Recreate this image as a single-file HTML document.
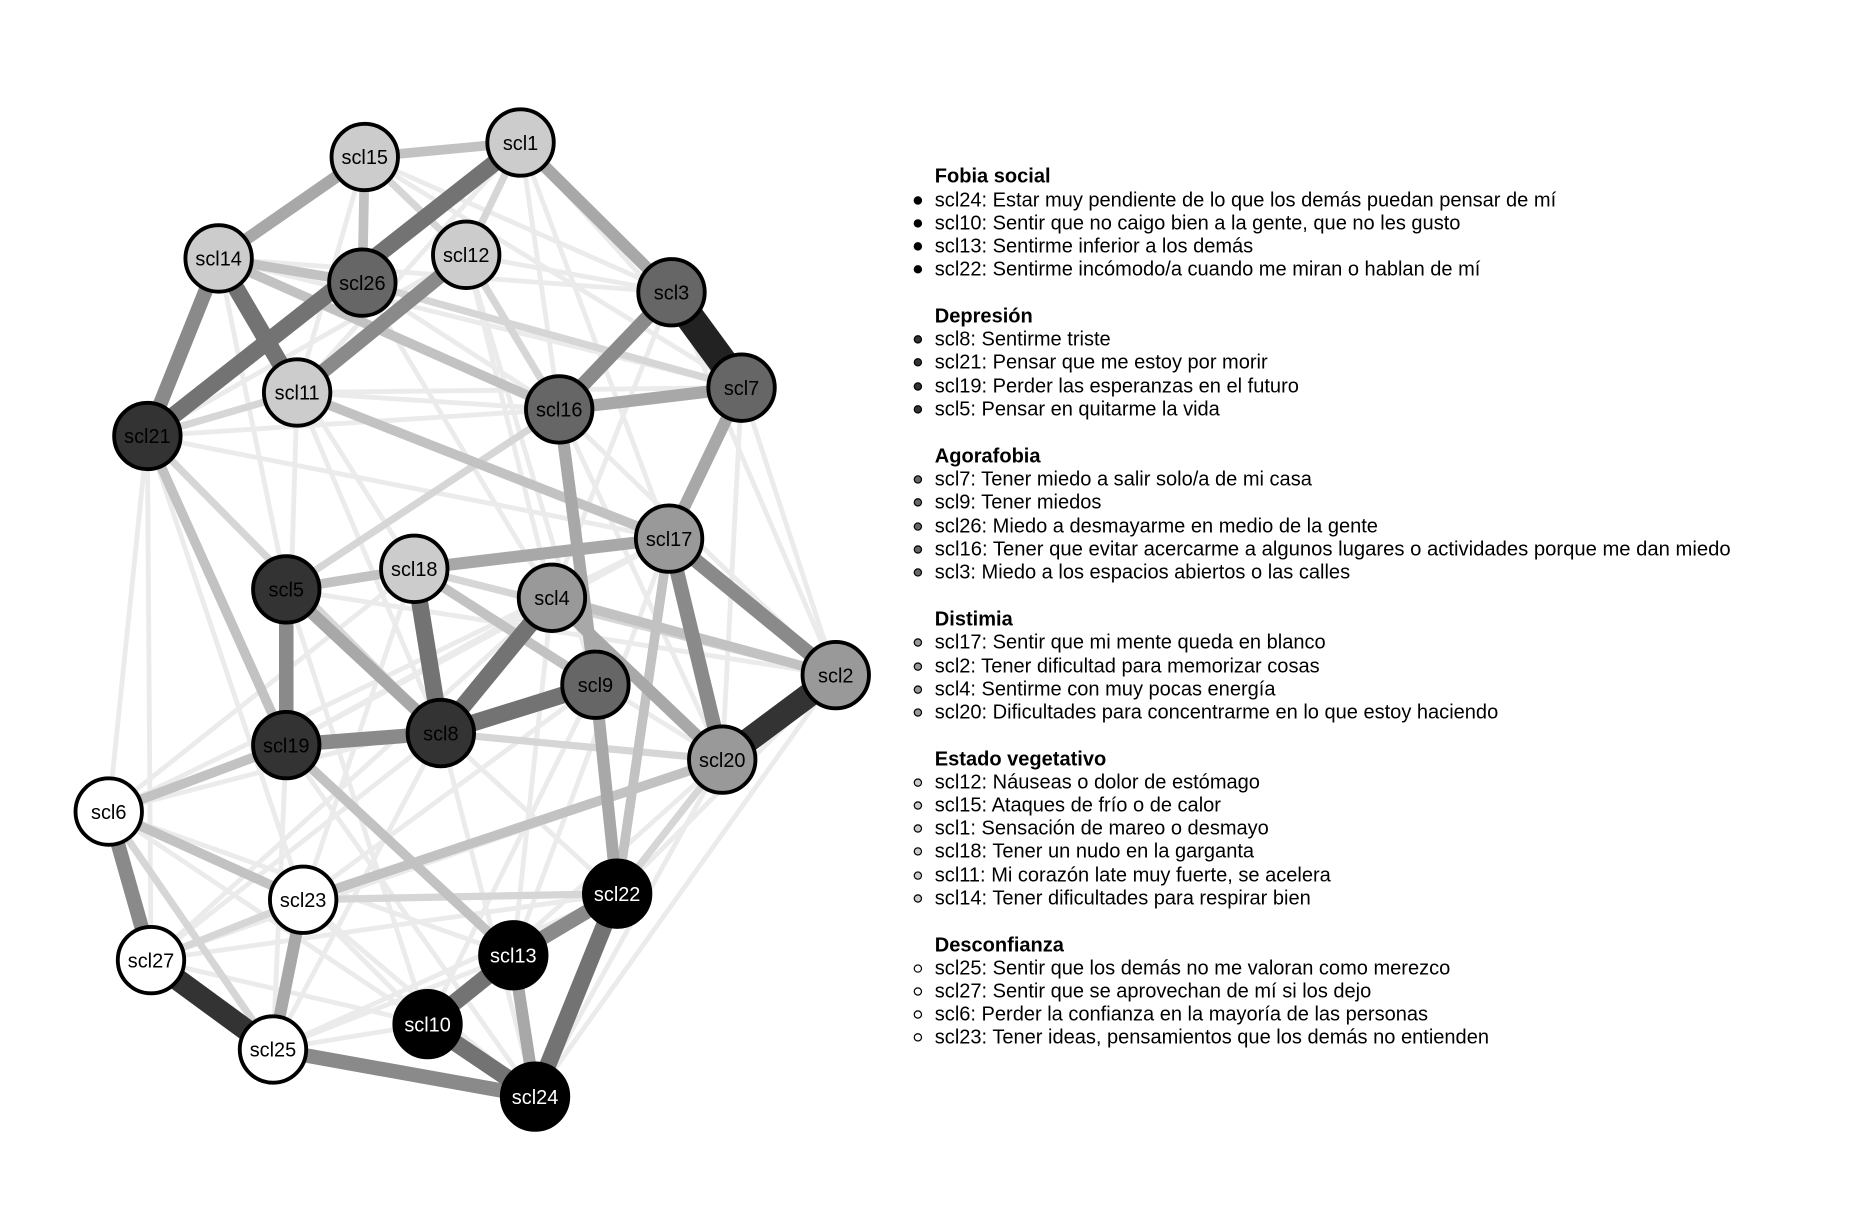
<!DOCTYPE html>
<html><head><meta charset="utf-8"><style>
html,body{margin:0;padding:0;background:#fff;width:1872px;height:1224px;overflow:hidden}
svg{display:block}
text{font-family:"Liberation Sans",Arial,sans-serif}
</style></head><body>
<svg width="1872" height="1224" viewBox="0 0 1550 1013.5" xmlns="http://www.w3.org/2000/svg">
<rect width="1550" height="1014" fill="#fff"/>
<g stroke-linecap="butt" fill="none">
<g stroke="#ebebeb" stroke-width="4">
<line x1="122" y1="361" x2="90" y2="672"/>
<line x1="122" y1="361" x2="125" y2="795"/>
<line x1="431" y1="118" x2="614" y2="321"/>
<line x1="431" y1="118" x2="463" y2="339"/>
<line x1="431" y1="118" x2="554" y2="446"/>
<line x1="431" y1="118" x2="246" y2="325"/>
<line x1="302" y1="130" x2="556" y2="242"/>
<line x1="302" y1="130" x2="614" y2="321"/>
<line x1="386" y1="211" x2="556" y2="242"/>
<line x1="386" y1="211" x2="457" y2="495"/>
<line x1="386" y1="211" x2="493" y2="567"/>
<line x1="181" y1="214" x2="237" y2="488"/>
<line x1="181" y1="214" x2="343" y2="471"/>
<line x1="300" y1="234" x2="463" y2="339"/>
<line x1="300" y1="234" x2="457" y2="495"/>
<line x1="246" y1="325" x2="614" y2="321"/>
<line x1="246" y1="325" x2="463" y2="339"/>
<line x1="246" y1="325" x2="365" y2="607"/>
<line x1="246" y1="325" x2="237" y2="617"/>
<line x1="122" y1="361" x2="463" y2="339"/>
<line x1="122" y1="361" x2="554" y2="446"/>
<line x1="122" y1="361" x2="251" y2="745"/>
<line x1="614" y1="321" x2="692" y2="559"/>
<line x1="614" y1="321" x2="598" y2="629"/>
<line x1="556" y1="242" x2="692" y2="559"/>
<line x1="556" y1="242" x2="457" y2="495"/>
<line x1="463" y1="339" x2="692" y2="559"/>
<line x1="463" y1="339" x2="598" y2="629"/>
<line x1="554" y1="446" x2="237" y2="617"/>
<line x1="554" y1="446" x2="90" y2="672"/>
<line x1="554" y1="446" x2="425" y2="791"/>
<line x1="343" y1="471" x2="598" y2="629"/>
<line x1="343" y1="471" x2="251" y2="745"/>
<line x1="343" y1="471" x2="90" y2="672"/>
<line x1="237" y1="488" x2="692" y2="559"/>
<line x1="237" y1="488" x2="511" y2="740"/>
<line x1="237" y1="488" x2="354" y2="848"/>
<line x1="457" y1="495" x2="237" y2="617"/>
<line x1="457" y1="495" x2="125" y2="795"/>
<line x1="457" y1="495" x2="425" y2="791"/>
<line x1="493" y1="567" x2="251" y2="745"/>
<line x1="493" y1="567" x2="354" y2="848"/>
<line x1="493" y1="567" x2="90" y2="672"/>
<line x1="365" y1="607" x2="125" y2="795"/>
<line x1="365" y1="607" x2="226" y2="869"/>
<line x1="365" y1="607" x2="443" y2="908"/>
<line x1="237" y1="617" x2="226" y2="869"/>
<line x1="237" y1="617" x2="443" y2="908"/>
<line x1="598" y1="629" x2="354" y2="848"/>
<line x1="598" y1="629" x2="443" y2="908"/>
<line x1="598" y1="629" x2="125" y2="795"/>
<line x1="692" y1="559" x2="511" y2="740"/>
<line x1="692" y1="559" x2="443" y2="908"/>
<line x1="90" y1="672" x2="354" y2="848"/>
<line x1="90" y1="672" x2="425" y2="791"/>
<line x1="251" y1="745" x2="443" y2="908"/>
<line x1="251" y1="745" x2="354" y2="848"/>
<line x1="125" y1="795" x2="354" y2="848"/>
<line x1="125" y1="795" x2="511" y2="740"/>
<line x1="226" y1="869" x2="511" y2="740"/>
<line x1="226" y1="869" x2="425" y2="791"/>
<line x1="226" y1="869" x2="354" y2="848"/>
<line x1="386" y1="211" x2="122" y2="361"/>
<line x1="302" y1="130" x2="246" y2="325"/>
<line x1="181" y1="214" x2="556" y2="242"/>
<line x1="181" y1="214" x2="614" y2="321"/>
</g>
<g stroke="#d6d6d6" stroke-width="6">
<line x1="431" y1="118" x2="386" y2="211"/>
<line x1="302" y1="130" x2="386" y2="211"/>
<line x1="300" y1="234" x2="614" y2="321"/>
<line x1="386" y1="211" x2="463" y2="339"/>
<line x1="122" y1="361" x2="246" y2="325"/>
<line x1="237" y1="488" x2="463" y2="339"/>
<line x1="365" y1="607" x2="598" y2="629"/>
<line x1="598" y1="629" x2="511" y2="740"/>
<line x1="251" y1="745" x2="511" y2="740"/>
<line x1="90" y1="672" x2="226" y2="869"/>
<line x1="614" y1="321" x2="554" y2="446"/>
<line x1="237" y1="488" x2="237" y2="617"/>
<line x1="343" y1="471" x2="692" y2="559"/>
<line x1="125" y1="795" x2="251" y2="745"/>
<line x1="122" y1="361" x2="365" y2="607"/>
</g>
<g stroke="#c2c2c2" stroke-width="8">
<line x1="302" y1="130" x2="431" y2="118"/>
<line x1="181" y1="214" x2="300" y2="234"/>
<line x1="181" y1="214" x2="463" y2="339"/>
<line x1="246" y1="325" x2="554" y2="446"/>
<line x1="302" y1="130" x2="300" y2="234"/>
<line x1="457" y1="495" x2="692" y2="559"/>
<line x1="237" y1="488" x2="343" y2="471"/>
<line x1="90" y1="672" x2="237" y2="617"/>
<line x1="90" y1="672" x2="251" y2="745"/>
<line x1="251" y1="745" x2="598" y2="629"/>
<line x1="237" y1="617" x2="425" y2="791"/>
<line x1="122" y1="361" x2="237" y2="617"/>
<line x1="554" y1="446" x2="511" y2="740"/>
<line x1="343" y1="471" x2="493" y2="567"/>
</g>
<g stroke="#a8a8a8" stroke-width="10">
<line x1="431" y1="118" x2="556" y2="242"/>
<line x1="302" y1="130" x2="181" y2="214"/>
<line x1="463" y1="339" x2="614" y2="321"/>
<line x1="343" y1="471" x2="554" y2="446"/>
<line x1="463" y1="339" x2="493" y2="567"/>
<line x1="614" y1="321" x2="554" y2="446"/>
<line x1="457" y1="495" x2="598" y2="629"/>
<line x1="493" y1="567" x2="511" y2="740"/>
<line x1="251" y1="745" x2="226" y2="869"/>
<line x1="425" y1="791" x2="443" y2="908"/>
<line x1="237" y1="488" x2="365" y2="607"/>
</g>
<g stroke="#8a8a8a" stroke-width="12">
<line x1="556" y1="242" x2="463" y2="339"/>
<line x1="554" y1="446" x2="598" y2="629"/>
<line x1="554" y1="446" x2="692" y2="559"/>
<line x1="237" y1="488" x2="237" y2="617"/>
<line x1="237" y1="617" x2="365" y2="607"/>
<line x1="386" y1="211" x2="246" y2="325"/>
<line x1="181" y1="214" x2="122" y2="361"/>
<line x1="90" y1="672" x2="125" y2="795"/>
<line x1="226" y1="869" x2="443" y2="908"/>
<line x1="511" y1="740" x2="425" y2="791"/>
</g>
<g stroke="#737373" stroke-width="14">
<line x1="431" y1="118" x2="122" y2="361"/>
<line x1="181" y1="214" x2="246" y2="325"/>
<line x1="343" y1="471" x2="365" y2="607"/>
<line x1="457" y1="495" x2="365" y2="607"/>
<line x1="365" y1="607" x2="493" y2="567"/>
<line x1="354" y1="848" x2="443" y2="908"/>
<line x1="511" y1="740" x2="443" y2="908"/>
<line x1="425" y1="791" x2="354" y2="848"/>
</g>
<line x1="556" y1="242" x2="614" y2="321" stroke="#222" stroke-width="24"/>
<line x1="692" y1="559" x2="598" y2="629" stroke="#333" stroke-width="20"/>
<line x1="125" y1="795" x2="226" y2="869" stroke="#333" stroke-width="18"/>
</g>
<g stroke="#000" stroke-width="3.2" font-size="16" text-anchor="middle">
<circle cx="302" cy="130" r="27.5" fill="#cccccc"/><circle cx="431" cy="118" r="27.5" fill="#cccccc"/>
<circle cx="181" cy="214" r="27.5" fill="#cccccc"/><circle cx="300" cy="234" r="27.5" fill="#666666"/>
<circle cx="386" cy="211" r="27.5" fill="#cccccc"/><circle cx="556" cy="242" r="27.5" fill="#666666"/>
<circle cx="614" cy="321" r="27.5" fill="#666666"/><circle cx="246" cy="325" r="27.5" fill="#cccccc"/>
<circle cx="122" cy="361" r="27.5" fill="#333333"/><circle cx="463" cy="339" r="27.5" fill="#666666"/>
<circle cx="554" cy="446" r="27.5" fill="#999999"/><circle cx="343" cy="471" r="27.5" fill="#cccccc"/>
<circle cx="237" cy="488" r="27.5" fill="#333333"/><circle cx="457" cy="495" r="27.5" fill="#999999"/>
<circle cx="493" cy="567" r="27.5" fill="#666666"/><circle cx="692" cy="559" r="27.5" fill="#999999"/>
<circle cx="237" cy="617" r="27.5" fill="#333333"/><circle cx="365" cy="607" r="27.5" fill="#333333"/>
<circle cx="598" cy="629" r="27.5" fill="#999999"/><circle cx="90" cy="672" r="27.5" fill="#ffffff"/>
<circle cx="251" cy="745" r="27.5" fill="#ffffff"/><circle cx="511" cy="740" r="27.5" fill="#000000"/>
<circle cx="125" cy="795" r="27.5" fill="#ffffff"/><circle cx="425" cy="791" r="27.5" fill="#000000"/>
<circle cx="354" cy="848" r="27.5" fill="#000000"/><circle cx="226" cy="869" r="27.5" fill="#ffffff"/>
<circle cx="443" cy="908" r="27.5" fill="#000000"/>
</g>
<g font-size="16.5" text-anchor="middle" fill="#000">
<text x="302" y="136">scl15</text><text x="431" y="124">scl1</text><text x="181" y="220">scl14</text>
<text x="300" y="240">scl26</text><text x="386" y="217">scl12</text><text x="556" y="248">scl3</text>
<text x="614" y="327">scl7</text><text x="246" y="331">scl11</text><text x="122" y="367">scl21</text>
<text x="463" y="345">scl16</text><text x="554" y="452">scl17</text><text x="343" y="477">scl18</text>
<text x="237" y="494">scl5</text><text x="457" y="501">scl4</text><text x="493" y="573">scl9</text>
<text x="692" y="565">scl2</text><text x="237" y="623">scl19</text><text x="365" y="613">scl8</text>
<text x="598" y="635">scl20</text><text x="90" y="678">scl6</text><text x="251" y="751">scl23</text>
<text x="125" y="801">scl27</text><text x="226" y="875">scl25</text>
<g fill="#fff"><text x="511" y="746">scl22</text><text x="425" y="797">scl13</text><text x="354" y="854">scl10</text><text x="443" y="914">scl24</text></g>
</g>
<g font-size="16.6" fill="#000">
<g font-weight="bold">
<text x="774" y="151">Fobia social</text><text x="774" y="267">Depresión</text><text x="774" y="383">Agorafobia</text>
<text x="774" y="518">Distimia</text><text x="774" y="634">Estado vegetativo</text><text x="774" y="788">Desconfianza</text>
</g>
<text x="774" y="171">scl24: Estar muy pendiente de lo que los demás puedan pensar de mí</text>
<text x="774" y="190">scl10: Sentir que no caigo bien a la gente, que no les gusto</text>
<text x="774" y="209">scl13: Sentirme inferior a los demás</text>
<text x="774" y="228">scl22: Sentirme incómodo/a cuando me miran o hablan de mí</text>
<text x="774" y="286">scl8: Sentirme triste</text>
<text x="774" y="305">scl21: Pensar que me estoy por morir</text>
<text x="774" y="325">scl19: Perder las esperanzas en el futuro</text>
<text x="774" y="344">scl5: Pensar en quitarme la vida</text>
<text x="774" y="402">scl7: Tener miedo a salir solo/a de mi casa</text>
<text x="774" y="421">scl9: Tener miedos</text>
<text x="774" y="441">scl26: Miedo a desmayarme en medio de la gente</text>
<text x="774" y="460" textLength="659" lengthAdjust="spacingAndGlyphs">scl16: Tener que evitar acercarme a algunos lugares o actividades porque me dan miedo</text>
<text x="774" y="479">scl3: Miedo a los espacios abiertos o las calles</text>
<text x="774" y="537">scl17: Sentir que mi mente queda en blanco</text>
<text x="774" y="557">scl2: Tener dificultad para memorizar cosas</text>
<text x="774" y="576">scl4: Sentirme con muy pocas energía</text>
<text x="774" y="595">scl20: Dificultades para concentrarme en lo que estoy haciendo</text>
<text x="774" y="653">scl12: Náuseas o dolor de estómago</text>
<text x="774" y="672">scl15: Ataques de frío o de calor</text>
<text x="774" y="691">scl1: Sensación de mareo o desmayo</text>
<text x="774" y="710">scl18: Tener un nudo en la garganta</text>
<text x="774" y="730">scl11: Mi corazón late muy fuerte, se acelera</text>
<text x="774" y="749">scl14: Tener dificultades para respirar bien</text>
<text x="774" y="807">scl25: Sentir que los demás no me valoran como merezco</text>
<text x="774" y="826">scl27: Sentir que se aprovechan de mí si los dejo</text>
<text x="774" y="845">scl6: Perder la confianza en la mayoría de las personas</text>
<text x="774" y="864">scl23: Tener ideas, pensamientos que los demás no entienden</text>
</g>
<g stroke="#000" stroke-width="1">
<g fill="#000"><circle cx="760" cy="166" r="3"/><circle cx="760" cy="185" r="3"/><circle cx="760" cy="204" r="3"/><circle cx="760" cy="223" r="3"/></g>
<g fill="#333"><circle cx="760" cy="281" r="3"/><circle cx="760" cy="300" r="3"/><circle cx="760" cy="320" r="3"/><circle cx="760" cy="339" r="3"/></g>
<g fill="#666"><circle cx="760" cy="397" r="3"/><circle cx="760" cy="416" r="3"/><circle cx="760" cy="436" r="3"/><circle cx="760" cy="455" r="3"/><circle cx="760" cy="474" r="3"/></g>
<g fill="#999"><circle cx="760" cy="532" r="3"/><circle cx="760" cy="552" r="3"/><circle cx="760" cy="571" r="3"/><circle cx="760" cy="590" r="3"/></g>
<g fill="#ccc"><circle cx="760" cy="648" r="3"/><circle cx="760" cy="667" r="3"/><circle cx="760" cy="686" r="3"/><circle cx="760" cy="705" r="3"/><circle cx="760" cy="725" r="3"/><circle cx="760" cy="744" r="3"/></g>
<g fill="#fff"><circle cx="760" cy="802" r="3"/><circle cx="760" cy="821" r="3"/><circle cx="760" cy="840" r="3"/><circle cx="760" cy="859" r="3"/></g>
</g>
</svg>
</body></html>
